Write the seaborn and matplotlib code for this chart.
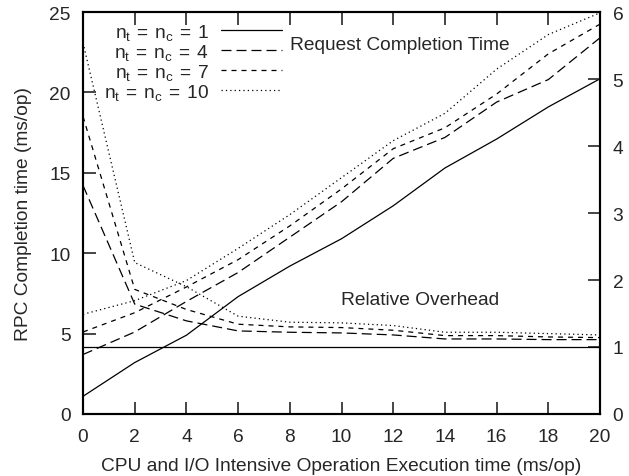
import numpy as np
import pandas as pd
import matplotlib
matplotlib.use('Agg')
import matplotlib.pyplot as plt
import seaborn as sns

# execution time (ms/op)
exec_time = [0, 2, 4, 6, 8, 10, 12, 14, 16, 18, 20]

# request completion time (ms/op), left axis
rct_1 = [1.1, 3.2, 4.9, 7.3, 9.2, 10.9, 12.95, 15.3, 17.1, 19.1, 20.85]
rct_4 = [3.7, 5.1, 7.0, 8.8, 11.0, 13.2, 15.9, 17.2, 19.4, 20.8, 23.4]
rct_7 = [5.1, 6.3, 7.9, 9.6, 11.7, 14.0, 16.5, 17.8, 19.9, 22.4, 24.25]
rct_10 = [6.2, 7.05, 8.3, 10.3, 12.4, 14.7, 17.0, 18.7, 21.45, 23.6, 24.95]

# relative overhead, right axis
ovh_1 = [1.0, 1.0, 1.0, 1.0, 1.0, 1.0, 1.0, 1.0, 1.0, 1.0, 1.0]
ovh_4 = [3.41, 1.64, 1.39, 1.24, 1.22, 1.21, 1.18, 1.12, 1.12, 1.11, 1.11]
ovh_7 = [4.44, 1.86, 1.56, 1.34, 1.3, 1.29, 1.25, 1.17, 1.17, 1.15, 1.14]
ovh_10 = [5.54, 2.26, 1.9, 1.46, 1.37, 1.36, 1.32, 1.22, 1.22, 1.2, 1.18]

labels = [r'$\mathregular{n_t\,=\,n_c\,=\,1}$', r'$\mathregular{n_t\,=\,n_c\,=\,4}$',
          r'$\mathregular{n_t\,=\,n_c\,=\,7}$', r'$\mathregular{n_t\,=\,n_c\,=\,10}$']
dashes = ['-', (0, (8, 4)), (0, (4, 4)), (0, (1, 2.5))]

sns.set_style('ticks')
plt.rcParams['font.family'] = ['Liberation Sans', 'DejaVu Sans']
plt.rcParams['mathtext.fontset'] = 'custom'
plt.rcParams['mathtext.rm'] = 'Liberation Sans'
fs = 13.8

fig = plt.figure(figsize=(6.29, 4.77), dpi=100)
ax = fig.add_axes([0.132, 0.13, 0.822, 0.8427])
ax2 = ax.twinx()

for y, lab, ls in zip([rct_1, rct_4, rct_7, rct_10], labels, dashes):
    sns.lineplot(x=exec_time, y=y, ax=ax, color='black', linewidth=0.9,
                 linestyle=ls, label=lab)
for y, ls in zip([ovh_1, ovh_4, ovh_7, ovh_10], dashes):
    sns.lineplot(x=exec_time, y=y, ax=ax2, color='black', linewidth=0.9,
                 linestyle=ls)

ax.set_xlim(0, 20)
ax.set_ylim(0, 25)
ax2.set_ylim(0, 6)
ax.set_xticks(range(0, 21, 2))
ax.set_yticks(range(0, 26, 5))
ax2.set_yticks(range(0, 7))
ax.tick_params(direction='in', length=9, width=1.2, top=True, right=False,
               labelsize=fs)
ax.tick_params(axis='x', pad=10)
ax.tick_params(axis='y', pad=9)
ax2.tick_params(direction='in', length=9, width=1.2, labelsize=fs, pad=9)
for a in (ax, ax2):
    for s in a.spines.values():
        s.set_linewidth(1.5)
        s.set_color('black')

ax.set_xlabel('CPU and I/O Intensive Operation Execution time (ms/op)', fontsize=fs,
              labelpad=9)
ax.set_ylabel('RPC Completion time (ms/op)', fontsize=fs, labelpad=12)

leg = ax.legend(loc='upper right', bbox_to_anchor=(0.385, 0.975), frameon=False,
                markerfirst=False, handlelength=3.2, handletextpad=0.6,
                labelspacing=0.0, borderaxespad=0, borderpad=0, fontsize=fs)
if ax2.get_legend():
    ax2.get_legend().remove()

ax.text(0.40, 0.92, 'Request Completion Time', transform=ax.transAxes, fontsize=fs,
        va='center', ha='left')
ax.text(0.652, 0.286, 'Relative Overhead', transform=ax.transAxes, fontsize=fs,
        va='center', ha='center')

fig.savefig('out.png', dpi=100)
